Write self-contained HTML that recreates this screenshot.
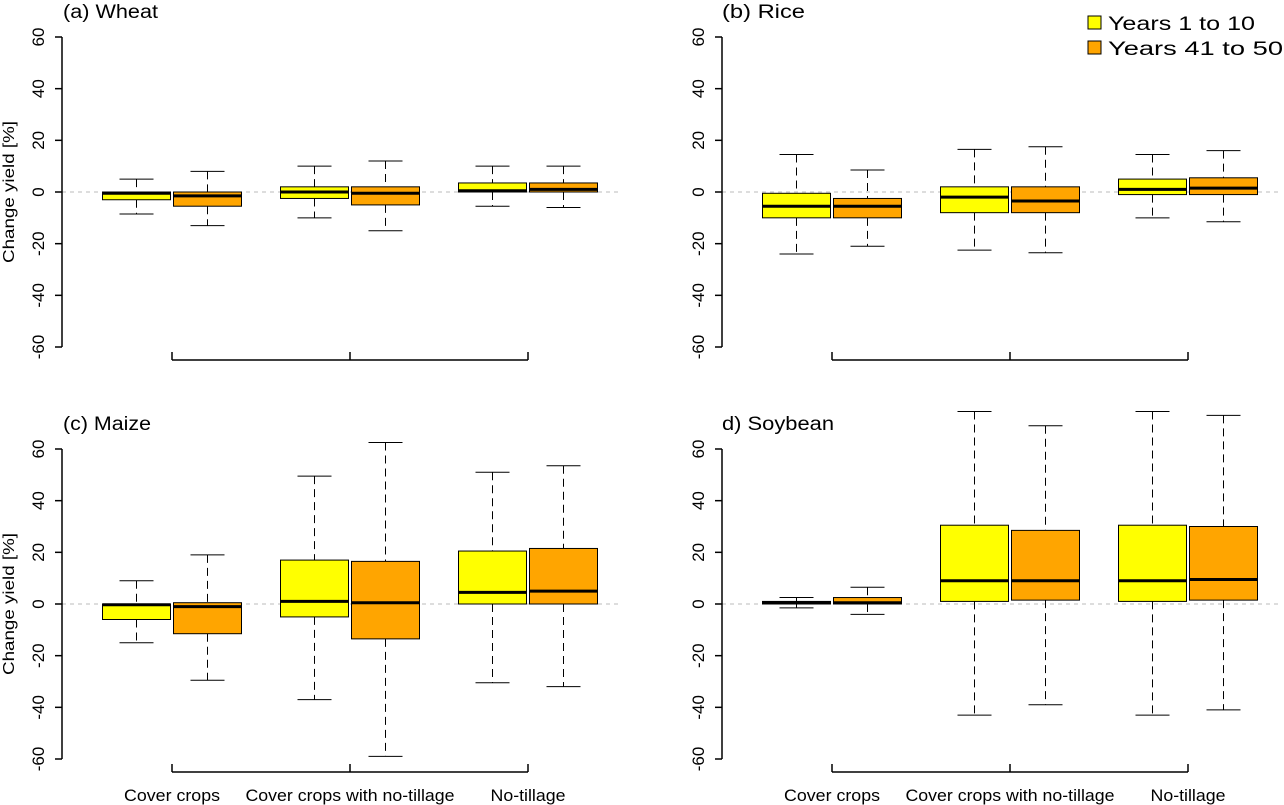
<!DOCTYPE html>
<html><head><meta charset="utf-8"><style>
body{margin:0;background:#fff}
svg{display:block;font-family:"Liberation Sans",sans-serif}
</style></head><body>
<svg id="chart" width="1284" height="805" viewBox="0 0 1284 805"></svg>
<script>
const categories=["Cover crops","Cover crops with no-tillage","No-tillage"];
const seriesNames=["Years 1 to 10","Years 41 to 50"];
const panelTitles=["(a) Wheat","(b) Rice","(c) Maize","d) Soybean"];
const yTicks=[-60,-40,-20,0,20,40,60];
// each box: [whiskerLow, q1, median, q3, whiskerHigh]; order: cat0 s0, cat0 s1, cat1 s0, ...
const wheat=[[-8.5,-3,-0.5,0,5],[-13,-5.5,-1.5,0,8],[-10,-2.5,0,2,10],[-15,-5,-0.5,2,12],[-5.5,0,0.5,3.5,10],[-6,0,1,3.5,10]];
const rice=[[-24,-10,-5.5,-0.5,14.5],[-21,-10,-5.5,-2.5,8.5],[-22.5,-8,-2,2,16.5],[-23.5,-8,-3.5,2,17.5],[-10,-1,1,5,14.5],[-11.5,-1,1.5,5.5,16]];
const maize=[[-15,-6,-0.3,0,9],[-29.5,-11.5,-1,0.5,19],[-37,-5,1,17,49.5],[-59,-13.5,0.5,16.5,62.5],[-30.5,0,4.5,20.5,51],[-32,0,5,21.5,53.5]];
const soybean=[[-1.5,0,0.5,1,2.5],[-4,0,0.5,2.5,6.5],[-43,1,9,30.5,74.5],[-39,1.5,9,28.5,69],[-43,1,9,30.5,74.5],[-41,1.5,9.5,30,73]];
const panelData=[wheat,rice,maize,soybean];
const colors=["#ffff00","#ffa500"];
const titleWidths=[95,83,88,112];
const catWidths=[96,209,75];

const svg=document.getElementById('chart');
const NS="http://www.w3.org/2000/svg";
function mk(tag,attrs,parent){const e=document.createElementNS(NS,tag);for(const k in attrs)e.setAttribute(k,attrs[k]);(parent||svg).appendChild(e);return e;}

const panels=[{ax:62,zero:192,top:true,ox:0},{ax:722,zero:192,top:true,ox:660},{ax:62,zero:604,top:false,ox:0},{ax:722,zero:604,top:false,ox:660}];
const PPU=155/60;
panels.forEach((p,pi)=>{
  const g=mk('g',{});
  
  
  const y=v=>p.zero-v*PPU;
  const gx=i=>172+p.ox+i*178;
  const t=mk('text',{x:pi%2===0?63:722,y:p.zero-174,'font-size':19,textLength:titleWidths[pi],lengthAdjust:'spacingAndGlyphs'},g);
  t.textContent=panelTitles[pi];
  
  
  const zl=mk('line',{x1:p.ax,x2:p.ax+560,y1:y(0),y2:y(0),stroke:'#bbb','stroke-dasharray':'4,4'},g);
  
  
  const ya=mk('line',{x1:p.ax,x2:p.ax,y1:y(60),y2:y(-60),stroke:'#000','stroke-width':1.5},g);
  
  
  yTicks.forEach(v=>{
    mk('line',{x1:p.ax-7,x2:p.ax,y1:y(v),y2:y(v),stroke:'#000','stroke-width':1.5},g);
    const tl=mk('text',{x:0,y:0,'font-size':17,'text-anchor':'middle',transform:`translate(${p.ax-18},${y(v)}) rotate(-90)`},g);
    tl.textContent=v;
    
    
  });
  if(pi%2===0){
    const yt=mk('text',{'font-size':16,'text-anchor':'middle',textLength:142,lengthAdjust:'spacingAndGlyphs',transform:`translate(14,${p.zero}) rotate(-90)`},g);
    yt.textContent='Change yield [%]';
    
    
  }
  const xy=p.top?360:772;
  const xa=mk('line',{x1:gx(0),x2:gx(2),y1:xy,y2:xy,stroke:'#000','stroke-width':1.5},g);
  
  
  categories.forEach((c,i)=>{
    mk('line',{x1:gx(i),x2:gx(i),y1:xy,y2:xy-8,stroke:'#000','stroke-width':1.5},g);
    if(!p.top){
      const xl=mk('text',{x:gx(i),y:801,'font-size':17,'text-anchor':'middle',textLength:catWidths[i],lengthAdjust:'spacingAndGlyphs'},g);
      xl.textContent=c;
      
      
    }
  });
  panelData[pi].forEach((b,k)=>{
    const ci=Math.floor(k/2),s=k%2;
    const cx=gx(ci)+(s===0?-35.5:35.5);
    const bg=mk('g',{},g);
    
    
    mk('line',{x1:cx,x2:cx,y1:y(b[4]),y2:y(b[3]),stroke:'#000','stroke-dasharray':'8,5'},bg);
    mk('line',{x1:cx,x2:cx,y1:y(b[1]),y2:y(b[0]),stroke:'#000','stroke-dasharray':'8,5'},bg);
    mk('line',{x1:cx-17,x2:cx+17,y1:y(b[4]),y2:y(b[4]),stroke:'#000'},bg);
    mk('line',{x1:cx-17,x2:cx+17,y1:y(b[0]),y2:y(b[0]),stroke:'#000'},bg);
    mk('rect',{x:cx-34,y:y(b[3]),width:68,height:Math.max(0.5,y(b[1])-y(b[3])),fill:colors[s],stroke:'#000'},bg);
    mk('line',{x1:cx-34,x2:cx+34,y1:y(b[2]),y2:y(b[2]),stroke:'#000','stroke-width':3},bg);
  });
});
const legendWidths=[147,175];
const lg=mk('g',{});


seriesNames.forEach((n,i)=>{
  const e=mk('g',{},lg);
  
  
  mk('rect',{x:1088,y:16+i*25,width:13,height:13,fill:colors[i],stroke:'#000'},e);
  const t=mk('text',{x:1108,y:30+i*25,'font-size':19,textLength:legendWidths[i],lengthAdjust:'spacingAndGlyphs'},e);
  t.textContent=n;
});
</script>
</body></html>
